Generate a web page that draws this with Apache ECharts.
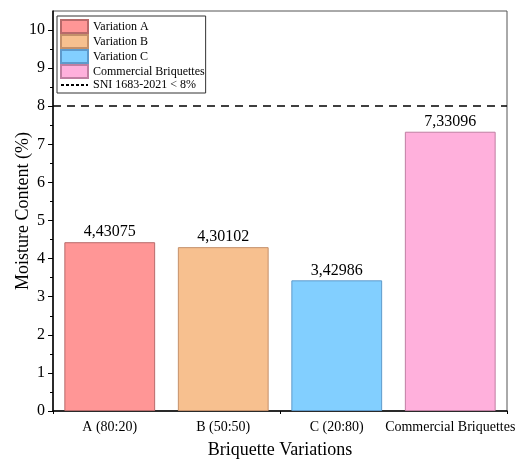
<!DOCTYPE html>
<html>
<head>
<meta charset="utf-8">
<script src="https://cdn.jsdelivr.net/npm/echarts@6/dist/echarts.min.js"></script>
<style>html,body{margin:0;padding:0;background:#fff;}#c{width:521px;height:459px;}</style>
</head>
<body>
<div id="c"></div>
<script>
const categories = ['A (80:20)', 'B (50:50)', 'C (20:80)', 'Commercial Briquettes'];
const seriesNames = ['Variation A', 'Variation B', 'Variation C', 'Commercial Briquettes'];
const moisture = [4.43075, 4.30102, 3.42986, 7.33096];
const thresholdName = 'SNI 1683-2021 < 8%';
const thresholdValue = 8;
const yTicks = [0, 1, 2, 3, 4, 5, 6, 7, 8, 9, 10];

const fills = ['#FF9696', '#F7C08F', '#82CFFF', '#FFB0DC'];
const borders = ['#B86A6A', '#C4906A', '#5E9ACB', '#C07FA2'];
const FONT = 'Liberation Serif';

const barSeries = seriesNames.map((name, i) => ({
  name: name,
  type: 'bar',
  stack: 'all',
  barWidth: '80%',
  xAxisIndex: 0,
  data: categories.map((c, j) => (j === i ? moisture[i] : '-')),
  itemStyle: { color: fills[i], borderColor: borders[i], borderWidth: 1 },
  label: {
    show: true, position: 'top', distance: 2,
    fontFamily: FONT, fontSize: 16, color: '#000',
    formatter: p => String(p.value).replace('.', ',')
  }
}));

const chart = echarts.init(document.getElementById('c'), null, { renderer: 'canvas' });
chart.setOption({
  animation: false,
  backgroundColor: '#fff',
  grid: { left: 53, right: 14, top: 11, bottom: 48, containLabel: false, outerBoundsMode: 'none',
          show: true, borderColor: '#555', borderWidth: 1 },
  legend: {
    orient: 'vertical', left: 57, top: 16,
    padding: [3, 1, 2, 3],
    itemWidth: 27, itemHeight: 13, itemGap: 0,
    borderColor: '#333', borderWidth: 1,
    textStyle: { fontFamily: FONT, fontSize: 12, color: '#000' },
    data: seriesNames.map(n => ({ name: n, icon: 'rect' })).concat([{
      name: thresholdName,
      itemStyle: { color: 'rgba(0,0,0,0)', borderColor: 'rgba(0,0,0,0)', borderWidth: 0, opacity: 0 }
    }])
  },
  xAxis: [{
    type: 'category', data: categories, position: 'bottom',
    axisLine: { lineStyle: { color: '#000', width: 1.5 } },
    axisTick: { alignWithLabel: true, length: 5, lineStyle: { color: '#000' } },
    axisLabel: { interval: 0, fontFamily: FONT, fontSize: 14, color: '#000', margin: 9 },
    name: 'Briquette Variations', nameLocation: 'middle', nameGap: 30,
    nameTextStyle: { fontFamily: FONT, fontSize: 18, color: '#000' },
    splitLine: { show: false }
  }, {
    type: 'category', data: categories, position: 'bottom',
    axisLine: { show: false },
    axisTick: { show: true, alignWithLabel: false, length: 3, lineStyle: { color: '#000' } },
    axisLabel: { show: false },
    splitLine: { show: false }
  }],
  yAxis: {
    type: 'value', min: 0, max: 10.5, interval: 1,
    axisLine: { show: true, lineStyle: { color: '#000', width: 1.5 } },
    axisTick: { show: true, length: 5, lineStyle: { color: '#000' }, customValues: yTicks },
    minorTick: { show: true, splitNumber: 2, length: 3, lineStyle: { color: '#000' } },
    axisLabel: { fontFamily: FONT, fontSize: 16, color: '#000', margin: 8, customValues: yTicks },
    splitLine: { show: false },
    name: 'Moisture Content (%)', nameLocation: 'middle', nameGap: 21, nameMoveOverlap: false,
    nameTextStyle: { fontFamily: FONT, fontSize: 18, color: '#000' }
  },
  series: barSeries.concat([{
    name: thresholdName,
    type: 'line',
    xAxisIndex: 0,
    data: [],
    symbol: 'none',
    itemStyle: { color: '#000' },
    lineStyle: { color: '#000', type: [3, 2], width: 1 },
    markLine: {
      silent: true, symbol: 'none', label: { show: false },
      lineStyle: { color: '#000', type: [8, 6], width: 1.5 },
      data: [{ yAxis: thresholdValue }]
    }
  }])
});
</script>
</body>
</html>
